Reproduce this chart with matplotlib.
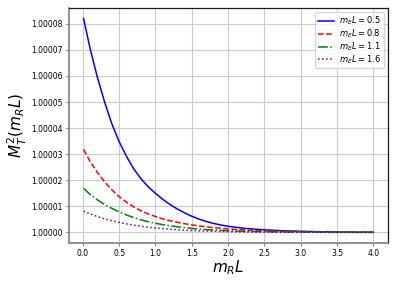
import matplotlib
matplotlib.use('Agg')
import matplotlib.pyplot as plt
from matplotlib.ticker import FormatStrFormatter, MultipleLocator
import numpy as np

# m_R L sample points
mRL = [0.01, 0.1, 0.2, 0.3, 0.4, 0.5, 0.6, 0.7, 0.8, 0.9, 1.0,
       1.1, 1.2, 1.3, 1.4, 1.5, 1.6, 1.7, 1.8, 1.9, 2.0,
       2.25, 2.5, 2.75, 3.0, 3.25, 3.5, 3.75, 4.0]

# M_T^2 - 1, in units of 1e-5
dev_05 = [8.20, 7.05, 5.95, 5.00, 4.16, 3.48, 2.92, 2.44, 2.06, 1.75, 1.50,
          1.27, 1.07, 0.90, 0.75, 0.62, 0.51, 0.42, 0.345, 0.285, 0.235,
          0.15, 0.10, 0.065, 0.043, 0.028, 0.018, 0.012, 0.008]
dev_08 = [3.18, 2.72, 2.30, 1.94, 1.63, 1.37, 1.16, 0.98, 0.83, 0.71, 0.61,
          0.52, 0.45, 0.39, 0.335, 0.29, 0.25, 0.215, 0.185, 0.16, 0.135,
          0.09, 0.06, 0.04, 0.027, 0.018, 0.012, 0.008, 0.005]
dev_11 = [1.69, 1.46, 1.25, 1.07, 0.92, 0.79, 0.67, 0.57, 0.48, 0.41, 0.35,
          0.30, 0.255, 0.215, 0.185, 0.155, 0.13, 0.11, 0.093, 0.078, 0.066,
          0.043, 0.028, 0.018, 0.012, 0.008, 0.005, 0.0035, 0.0025]
dev_16 = [0.82, 0.71, 0.61, 0.52, 0.45, 0.385, 0.33, 0.28, 0.24, 0.20, 0.17,
          0.145, 0.122, 0.103, 0.087, 0.073, 0.061, 0.051, 0.043, 0.036, 0.030,
          0.019, 0.012, 0.008, 0.005, 0.0035, 0.0023, 0.0015, 0.001]

mEL_labels = ['0.5', '0.8', '1.1', '1.6']

fig = plt.figure(figsize=(3.97, 2.83), dpi=100)
ax = fig.add_axes([0.174, 0.141, 0.803, 0.831])

series = [dev_05, dev_08, dev_11, dev_16]
styles = [('b', '-'), ('r', '--'), ('g', '-.'), ('purple', ':')]
for dev, lab, (c, ls) in zip(series, mEL_labels, styles):
    y = 1 + np.array(dev) * 1e-5
    ax.plot(mRL, y, color=c, linestyle=ls, linewidth=1.1,
            label=r'$m_E L = %s$' % lab)

ax.yaxis.set_major_locator(MultipleLocator(1e-5))
ax.yaxis.set_major_formatter(FormatStrFormatter('%.5f'))
ax.set_xticks(np.arange(0, 4.01, 0.5))
ax.grid(True, color='0.8', linewidth=0.8)
ax.set_axisbelow(True)
ax.tick_params(labelsize=5.5, length=2.5, width=0.6, color='0.4', pad=2)

for side in ['left', 'bottom']:
    ax.spines[side].set_color('0.5')
    ax.spines[side].set_linewidth(1.2)
for side in ['top', 'right']:
    ax.spines[side].set_color('0.1')
    ax.spines[side].set_linewidth(0.9)

ax.set_xlabel(r'$m_R L$', fontsize=11, labelpad=0)
ax.set_ylabel(r'$M_T^2(m_R L)$', fontsize=11, labelpad=2)

ax.legend(loc='upper right', fontsize=6, handlelength=2.0,
          borderpad=0.3, labelspacing=0.05, handletextpad=0.6,
          framealpha=0.8)

fig.savefig('out.png', dpi=100)
